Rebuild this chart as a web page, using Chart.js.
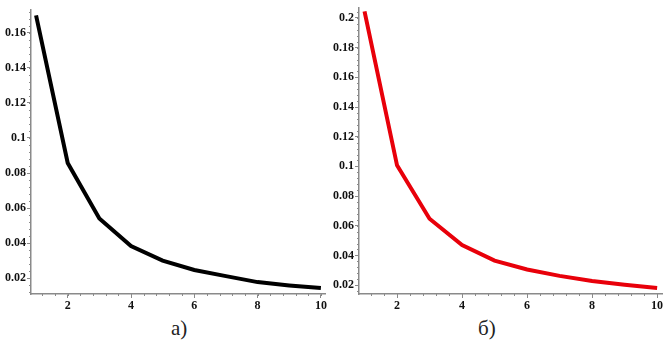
<!DOCTYPE html>
<html>
<head>
<meta charset="utf-8">
<script src="https://cdn.jsdelivr.net/npm/chart.js@4/dist/chart.umd.min.js"></script>
<style>
  html, body { margin: 0; padding: 0; background: #fff; }
  #wrap { position: relative; width: 669px; height: 344px; overflow: hidden; }
  .box { position: absolute; top: 0; height: 310px; }
  .cap { position: absolute; top: 316px; font-family: "Liberation Serif", "DejaVu Serif", serif;
         font-size: 21px; color: #222; }
</style>
</head>
<body>
<div id="wrap">
  <div class="box" style="left:0;width:330px"><canvas id="chartA"></canvas></div>
  <div class="box" style="left:330px;width:339px"><canvas id="chartB"></canvas></div>
  <div class="cap" style="left:171px">а)</div>
  <div class="cap" style="left:478px">б)</div>
</div>
<script>
// Data
const steps = [1, 2, 3, 4, 5, 6, 7, 8, 9, 10];
const seriesA = [0.170, 0.0857, 0.054, 0.0383, 0.0300, 0.0246, 0.0211, 0.0177, 0.0158, 0.0143];
const seriesB = [0.2045, 0.1007, 0.0647, 0.0470, 0.0365, 0.0305, 0.0262, 0.0228, 0.0202, 0.0180];
const xTicks = [2, 4, 6, 8, 10];
const yTicksA = [0.02, 0.04, 0.06, 0.08, 0.1, 0.12, 0.14, 0.16];
const yTicksB = [0.02, 0.04, 0.06, 0.08, 0.1, 0.12, 0.14, 0.16, 0.18, 0.2];

(function () {
  "use strict";

  const axisGray = "#8a8a8a";
  const tickFont = { family: "'Liberation Serif', 'DejaVu Serif', serif", size: 12, weight: "bold" };

  // Small ticks between the labelled ones (Maple style)
  const minorTicks = {
    id: "minorTicks",
    afterDraw(chart, args, opts) {
      const ctx = chart.ctx;
      const xs = chart.scales.x;
      const ys = chart.scales.y;
      ctx.save();
      ctx.strokeStyle = axisGray;
      ctx.lineWidth = 1;
      ctx.beginPath();
      for (let v = Math.ceil(xs.min / opts.xStep) * opts.xStep; v <= xs.max; v += opts.xStep) {
        const px = Math.round(xs.getPixelForValue(v)) + 0.5;
        ctx.moveTo(px, xs.top);
        ctx.lineTo(px, xs.top + 2);
      }
      for (let v = Math.ceil(ys.min / opts.yStep) * opts.yStep; v <= ys.max; v += opts.yStep) {
        const py = Math.round(ys.getPixelForValue(v)) + 0.5;
        ctx.moveTo(ys.right, py);
        ctx.lineTo(ys.right - 2, py);
      }
      ctx.stroke();
      ctx.restore();
    },
  };

  function makeChart(id, values, color, yTicks, cfg) {
    const ctx = document.getElementById(id);
    return new Chart(ctx, {
      type: "line",
      data: {
        datasets: [
          {
            data: steps.map((s, i) => ({ x: s, y: values[i] })),
            borderColor: color,
            borderWidth: 4,
            pointRadius: 0,
            tension: 0,
            fill: false,
          },
        ],
      },
      options: {
        responsive: true,
        maintainAspectRatio: false,
        animation: false,
        layout: { padding: { top: cfg.top, right: cfg.right, left: 0, bottom: 0 } },
        plugins: {
          legend: { display: false },
          tooltip: { enabled: false },
          minorTicks: { xStep: 0.4, yStep: 0.004 },
        },
        scales: {
          x: {
            type: "linear",
            min: cfg.xMin,
            max: cfg.xMax,
            afterBuildTicks: (s) => { s.ticks = xTicks.map((v) => ({ value: v })); },
            afterFit: (s) => { s.height = 16; },
            ticks: { font: tickFont, color: "#111", padding: 1, maxRotation: 0 },
            grid: { drawOnChartArea: false, drawTicks: true, tickLength: 4, tickColor: axisGray },
            border: { display: true, color: axisGray, width: 1.5 },
          },
          y: {
            min: cfg.yMin,
            max: cfg.yMax,
            afterBuildTicks: (s) => { s.ticks = yTicks.map((v) => ({ value: v })); },
            afterFit: (s) => { s.width = cfg.yWidth; },
            ticks: {
              font: tickFont,
              color: "#111",
              padding: 1,
              callback: (v) => String(+v.toFixed(3)),
            },
            grid: { drawOnChartArea: false, drawTicks: true, tickLength: 4, tickColor: axisGray },
            border: { display: true, color: axisGray, width: 1.5 },
          },
        },
      },
      plugins: [minorTicks],
    });
  }

  makeChart("chartA", seriesA, "#000000", yTicksA, {
    top: 10, right: 5, yWidth: 31,
    xMin: 0.84, xMax: 10.13, yMin: 0.0109, yMax: 0.1731,
  });
  makeChart("chartB", seriesB, "#e8000a", yTicksB, {
    top: 2, right: 7, yWidth: 29,
    xMin: 0.83, xMax: 10.15, yMin: 0.014, yMax: 0.2066,
  });
})();
</script>
</body>
</html>
